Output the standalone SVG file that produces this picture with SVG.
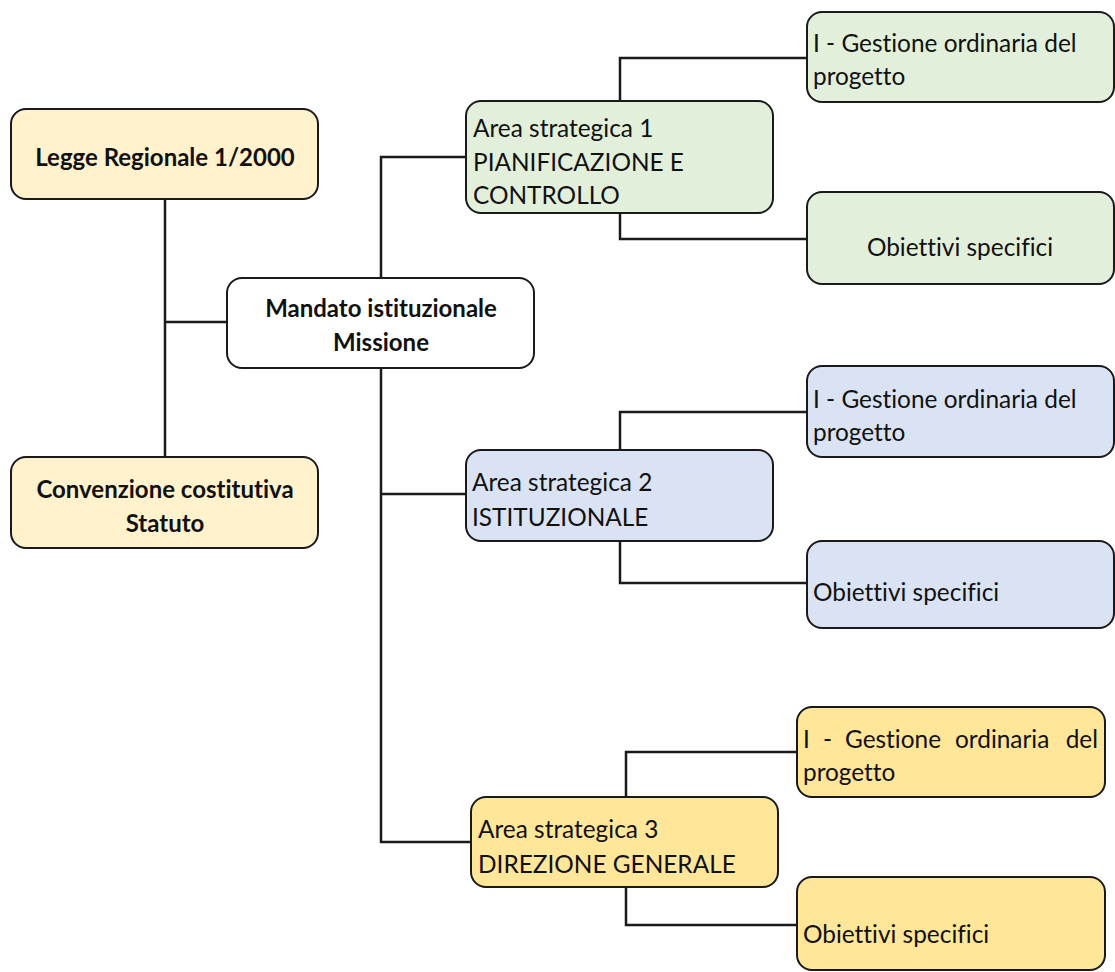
<svg xmlns="http://www.w3.org/2000/svg" width="1115" height="972" viewBox="0 0 1115 972">
<style>
.box{stroke:#1a1a1a;stroke-width:2}
.y1{fill:#FFF2CC}.w{fill:#FFFFFF}.g{fill:#E2EFDA}.b{fill:#DAE3F3}.y2{fill:#FFE699}
text{font-family:Lato,"Open Sans","Liberation Sans",sans-serif;font-size:24.4px;fill:#111;font-variant-ligatures:none;font-feature-settings:"liga" 0}
.bold{font-weight:bold;text-anchor:middle;font-size:24px}
.c{text-anchor:middle}
.conn{fill:none;stroke:#1a1a1a;stroke-width:2.5}
</style>
<rect width="1115" height="972" fill="#fff"/>
<g id="connectors">
<path class="conn" d="M165 199V457M165 322H227"/>
<path class="conn" d="M381 278V157H466M381 368V842H471M381 494H466"/>
<path class="conn" d="M620 101V58H807M620 213V239H807"/>
<path class="conn" d="M620 450V412H807M620 541V583H807"/>
<path class="conn" d="M626 797V752H797M626 887V925H797"/>
</g>
<g id="legge"><rect class="box y1" x="11" y="109" width="307" height="90" rx="15"/><text class="bold" x="165" y="166">Legge Regionale 1/2000</text></g>
<g id="convenzione"><rect class="box y1" x="11" y="457" width="307" height="91" rx="15"/><text class="bold" x="165" y="498">Convenzione costitutiva</text><text class="bold" x="165" y="532">Statuto</text></g>
<g id="mandato"><rect class="box w" x="227" y="278" width="307" height="90" rx="15"/><text class="bold" x="381" y="317">Mandato istituzionale</text><text class="bold" x="381" y="351">Missione</text></g>
<g id="area1"><rect class="box g" x="466" y="101" width="307" height="112" rx="15"/><text x="473" y="137">Area strategica 1</text><text x="473" y="171">PIANIFICAZIONE E</text><text x="473" y="204">CONTROLLO</text></g>
<g id="gest1"><rect class="box g" x="807" y="12" width="307" height="90" rx="15"/><text x="813" y="52">I - Gestione ordinaria del</text><text x="813" y="85">progetto</text></g>
<g id="obj1"><rect class="box g" x="807" y="192" width="307" height="92" rx="15"/><text class="c" x="960" y="256">Obiettivi specifici</text></g>
<g id="area2"><rect class="box b" x="466" y="450" width="307" height="91" rx="15"/><text x="472" y="491">Area strategica 2</text><text x="472" y="526">ISTITUZIONALE</text></g>
<g id="gest2"><rect class="box b" x="807" y="366" width="307" height="91" rx="15"/><text x="813" y="408">I - Gestione ordinaria del</text><text x="813" y="441">progetto</text></g>
<g id="obj2"><rect class="box b" x="807" y="541" width="307" height="87" rx="15"/><text x="813" y="601">Obiettivi specifici</text></g>
<g id="area3"><rect class="box y2" x="471" y="797" width="307" height="90" rx="15"/><text x="478" y="838">Area strategica 3</text><text x="478" y="873">DIREZIONE GENERALE</text></g>
<g id="gest3"><rect class="box y2" x="797" y="707" width="308" height="90" rx="15"/><text y="748"><tspan x="803">I</tspan><tspan x="823">-</tspan><tspan x="845">Gestione</tspan><tspan x="955">ordinaria</tspan><tspan x="1098" text-anchor="end">del</tspan></text><text x="803" y="781">progetto</text></g>
<g id="obj3"><rect class="box y2" x="797" y="877" width="308" height="93" rx="15"/><text x="803" y="943">Obiettivi specifici</text></g>
</svg>
